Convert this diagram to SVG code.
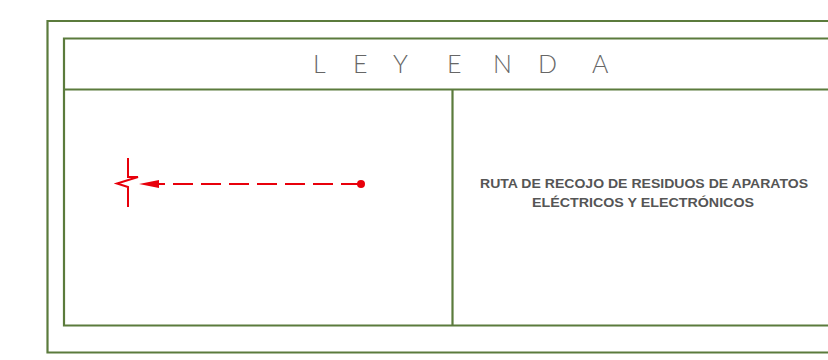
<svg xmlns="http://www.w3.org/2000/svg" width="828" height="360" viewBox="0 0 828 360">
<style>
.frame{fill:none;stroke:#5b7b3c;stroke-width:2.2}
.red{stroke:#e8000b;fill:none;stroke-width:2}
.title{font-family:"Lato","Open Sans","Liberation Sans",sans-serif;font-weight:300;font-size:25px;fill:#666}
.desc{font-family:"Liberation Sans","Open Sans",sans-serif;font-weight:bold;font-size:12.5px;fill:#555;text-anchor:middle}
</style>
<rect width="828" height="360" fill="#fff"/>
<g id="frame">
<path class="frame" d="M830,21 H47.5 V352.5 H830"/>
<path class="frame" d="M830,38.5 H64 V325.5 H830"/>
<path class="frame" d="M64,89.5 H830"/>
<path class="frame" d="M452.5,89.5 V325.5"/>
</g>
<g id="header">
<text class="title" x="313 353 393 447 493 538 592" y="73">LEYENDA</text>
</g>
<g id="symbol">
<path class="red" d="M128,158 V177 H138 L117,183.5 L128,187 V207"/>
<circle cx="361" cy="184" r="4" fill="#e8000b"/>
</g>
<g id="connectors">
<path class="red" d="M361,184 H157" stroke-dasharray="20 8"/>
<path d="M139,184 L159,180 L159,188 Z" fill="#e8000b"/>
</g>
<g id="description">
<text class="desc" x="644" y="188" textLength="328" lengthAdjust="spacingAndGlyphs">RUTA DE RECOJO DE RESIDUOS DE APARATOS</text>
<text class="desc" x="643" y="207" textLength="222" lengthAdjust="spacingAndGlyphs">ELÉCTRICOS Y ELECTRÓNICOS</text>
</g>
</svg>
